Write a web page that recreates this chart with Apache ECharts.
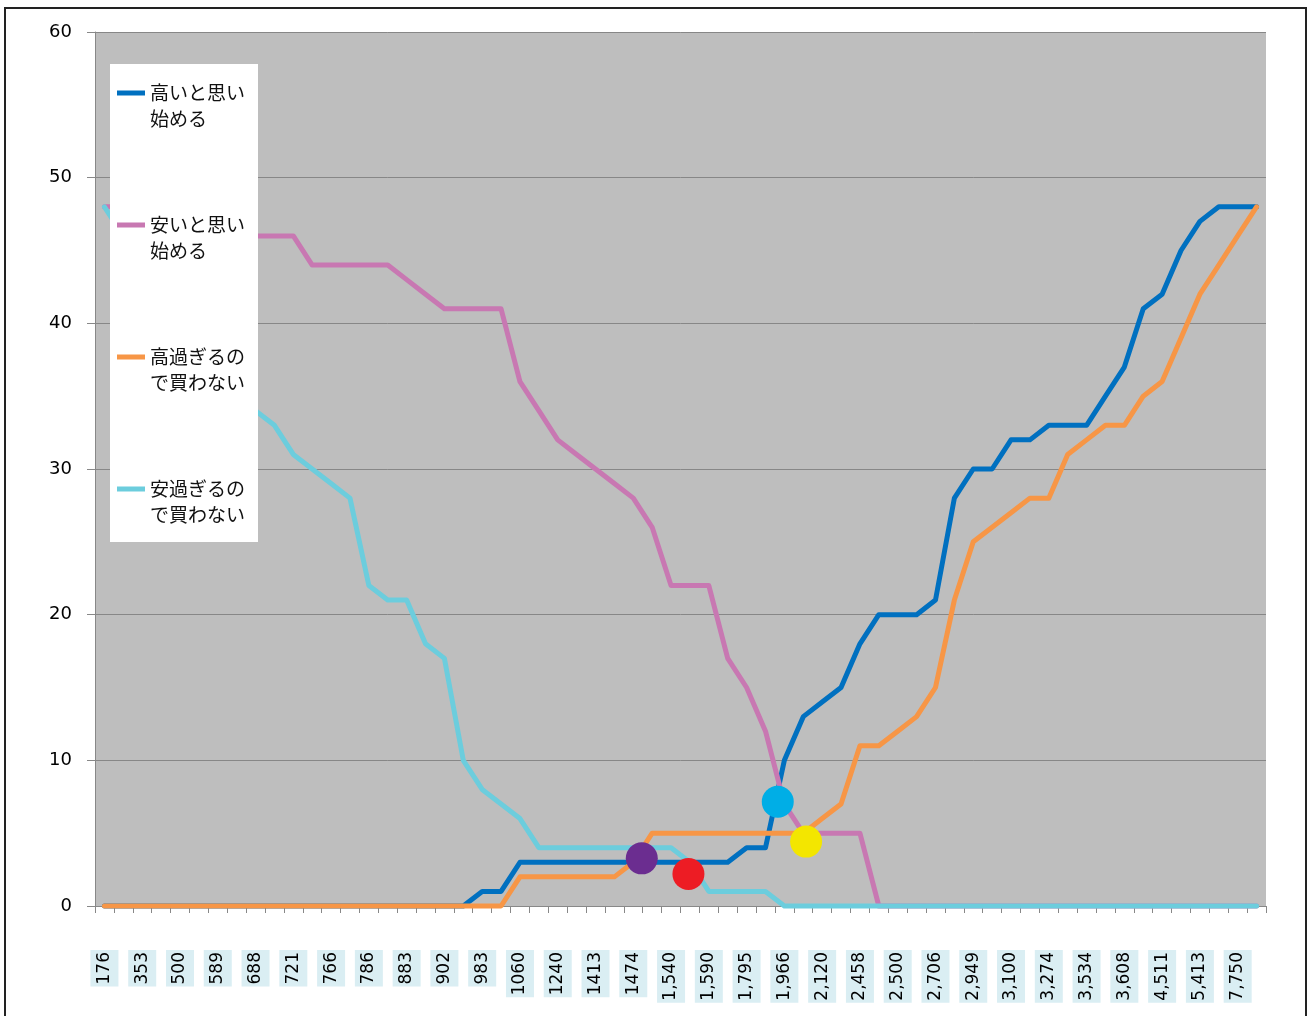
<!DOCTYPE html>
<html>
<head>
<meta charset="utf-8">
<script src="https://cdn.jsdelivr.net/npm/echarts@6/dist/echarts.min.js"></script>
<style>
html,body{margin:0;padding:0;background:#fff;}
#chart{position:absolute;left:0;top:0;width:1311px;height:1016px;}
#frame{position:absolute;left:4px;top:7px;width:1299px;height:1040px;border:2px solid #222;pointer-events:none;}
</style>
</head>
<body>
<div id="chart"></div>
<div id="frame"></div>
<script>
// Category labels (only every other one is printed in the source chart)
const categories = [
  '176','', '353','', '500','', '589','', '688','', '721','', '766','', '786','', '883','', '902','', '983','',
  '1060','', '1240','', '1413','', '1474','', '1,540','', '1,590','', '1,795','', '1,966','', '2,120','',
  '2,458','', '2,500','', '2,706','', '2,949','', '3,100','', '3,274','', '3,534','', '3,608','', '4,511','',
  '5,413','', '7,750',''
];

const seriesNames = ['高いと思い始める', '安いと思い始める', '高過ぎるので買わない', '安過ぎるので買わない'];

const highStart = [0,0,0,0,0,0,0,0,0,0, 0,0,0,0,0,0,0,0,0,0, 1,1,3,3,3,3,3,3,3,3, 3,3,3,3,4,4,10,13,14,15, 18,20,20,20,21,28,30,30,32,32, 33,33,33,35,37,41,42,45,47,48, 48,48];
const cheapStart = [48,48,47,47,47,46,46,46,46,46, 46,44,44,44,44,44,43,42,41,41, 41,41,36,34,32,31,30,29,28,26, 22,22,22,17,15,12,7,5,5,5, 5,0,0,0,0,0,0,0,0,0, 0,0,0,0,0,0,0,0,0,0, 0,0];
const tooHigh = [0,0,0,0,0,0,0,0,0,0, 0,0,0,0,0,0,0,0,0,0, 0,0,2,2,2,2,2,2,3,5, 5,5,5,5,5,5,5,5,6,7, 11,11,12,13,15,21,25,26,27,28, 28,31,32,33,33,35,36,39,42,44, 46,48];
const tooCheap = [48,46,44,42,40,38,37,35,34,33, 31,30,29,28,22,21,21,18,17,10, 8,7,6,4,4,4,4,4,4,4, 4,3,1,1,1,1,0,0,0,0, 0,0,0,0,0,0,0,0,0,0, 0,0,0,0,0,0,0,0,0,0, 0,0];

const lineColors = ['#0070c0', '#c878b2', '#f79646', '#6ccddd'];

// Highlight dots: [category position, value]
const dotPoints = [[28.45, 3.27], [30.92, 2.2], [35.65, 7.16], [37.15, 4.42]];
const dotColors = ['#6b2d90', '#ed1c24', '#00aee6', '#f3e600'];

const yTicks = {min: 0, max: 60, interval: 10};

const chart = echarts.init(document.getElementById('chart'), null, {renderer: 'canvas'});

const lineData = [highStart, cheapStart, tooHigh, tooCheap];
const series = lineData.map((d, k) => ({
  name: seriesNames[k],
  type: 'line',
  data: d,
  xAxisIndex: 0,
  yAxisIndex: 0,
  symbol: 'none',
  smooth: false,
  clip: false,
  z: 2,
  itemStyle: {color: lineColors[k]},
  lineStyle: {color: lineColors[k], width: 5, cap: 'round', join: 'round'},
  emphasis: {disabled: true}
}));

series.push({
  type: 'scatter',
  xAxisIndex: 1,
  yAxisIndex: 0,
  symbol: 'circle',
  symbolSize: 32,
  z: 5,
  clip: false,
  data: dotPoints.map((p, k) => ({value: p, itemStyle: {color: dotColors[k], opacity: 1}})),
  emphasis: {disabled: true}
});

const option = {
  animation: false,
  backgroundColor: '#ffffff',
  textStyle: {fontFamily: 'DejaVu Sans'},
  grid: {
    left: 95, right: 45, top: 32, bottom: 110,
    containLabel: false,
    outerBoundsMode: 'none',
    show: true,
    backgroundColor: '#bebebe',
    borderWidth: 0
  },
  legend: {
    data: seriesNames,
    orient: 'vertical',
    left: 110,
    top: 64,
    padding: [16, 13, 14, 7],
    backgroundColor: '#ffffff',
    borderWidth: 0,
    itemWidth: 28,
    itemHeight: 52,
    itemGap: 80,
    icon: 'path://M0,0L0,0M0,10.5L28,10.5L28,15.5L0,15.5ZM0,52L0,52',
    symbolKeepAspect: false,
    selectedMode: false,
    itemStyle: {borderWidth: 0},
    formatter: n => n.slice(0, 5) + '\n' + n.slice(5),
    textStyle: {fontFamily: 'Noto Sans CJK JP', fontSize: 19, lineHeight: 26, color: '#111'}
  },
  xAxis: [{
    type: 'category',
    data: categories,
    boundaryGap: true,
    axisLine: {show: true, onZero: false, lineStyle: {color: '#888888', width: 1}},
    axisTick: {show: true, interval: 0, length: 7, lineStyle: {color: '#888888', width: 1}},
    axisLabel: {
      interval: 1,
      rotate: 90,
      margin: 44,
      fontFamily: 'DejaVu Sans',
      fontSize: 17,
      lineHeight: 20,
      color: '#000',
      backgroundColor: '#daeef3',
      padding: [4, 2, 4, 2],
      hideOverlap: false
    },
    splitLine: {show: false}
  }, {
    type: 'value',
    min: -0.5,
    max: categories.length - 0.5,
    show: false,
    axisLine: {show: false, onZero: false},
    splitLine: {show: false}
  }],
  yAxis: {
    type: 'value',
    min: yTicks.min,
    max: yTicks.max,
    interval: yTicks.interval,
    axisLine: {show: true, onZero: false, lineStyle: {color: '#888888', width: 1}},
    axisTick: {show: true, length: 8, lineStyle: {color: '#888888', width: 1}},
    axisLabel: {margin: 23, fontFamily: 'DejaVu Sans', fontSize: 18, color: '#000'},
    splitLine: {show: true, lineStyle: {color: '#878787', width: 1}}
  },
  series: series
};

chart.setOption(option);
</script>
</body>
</html>
